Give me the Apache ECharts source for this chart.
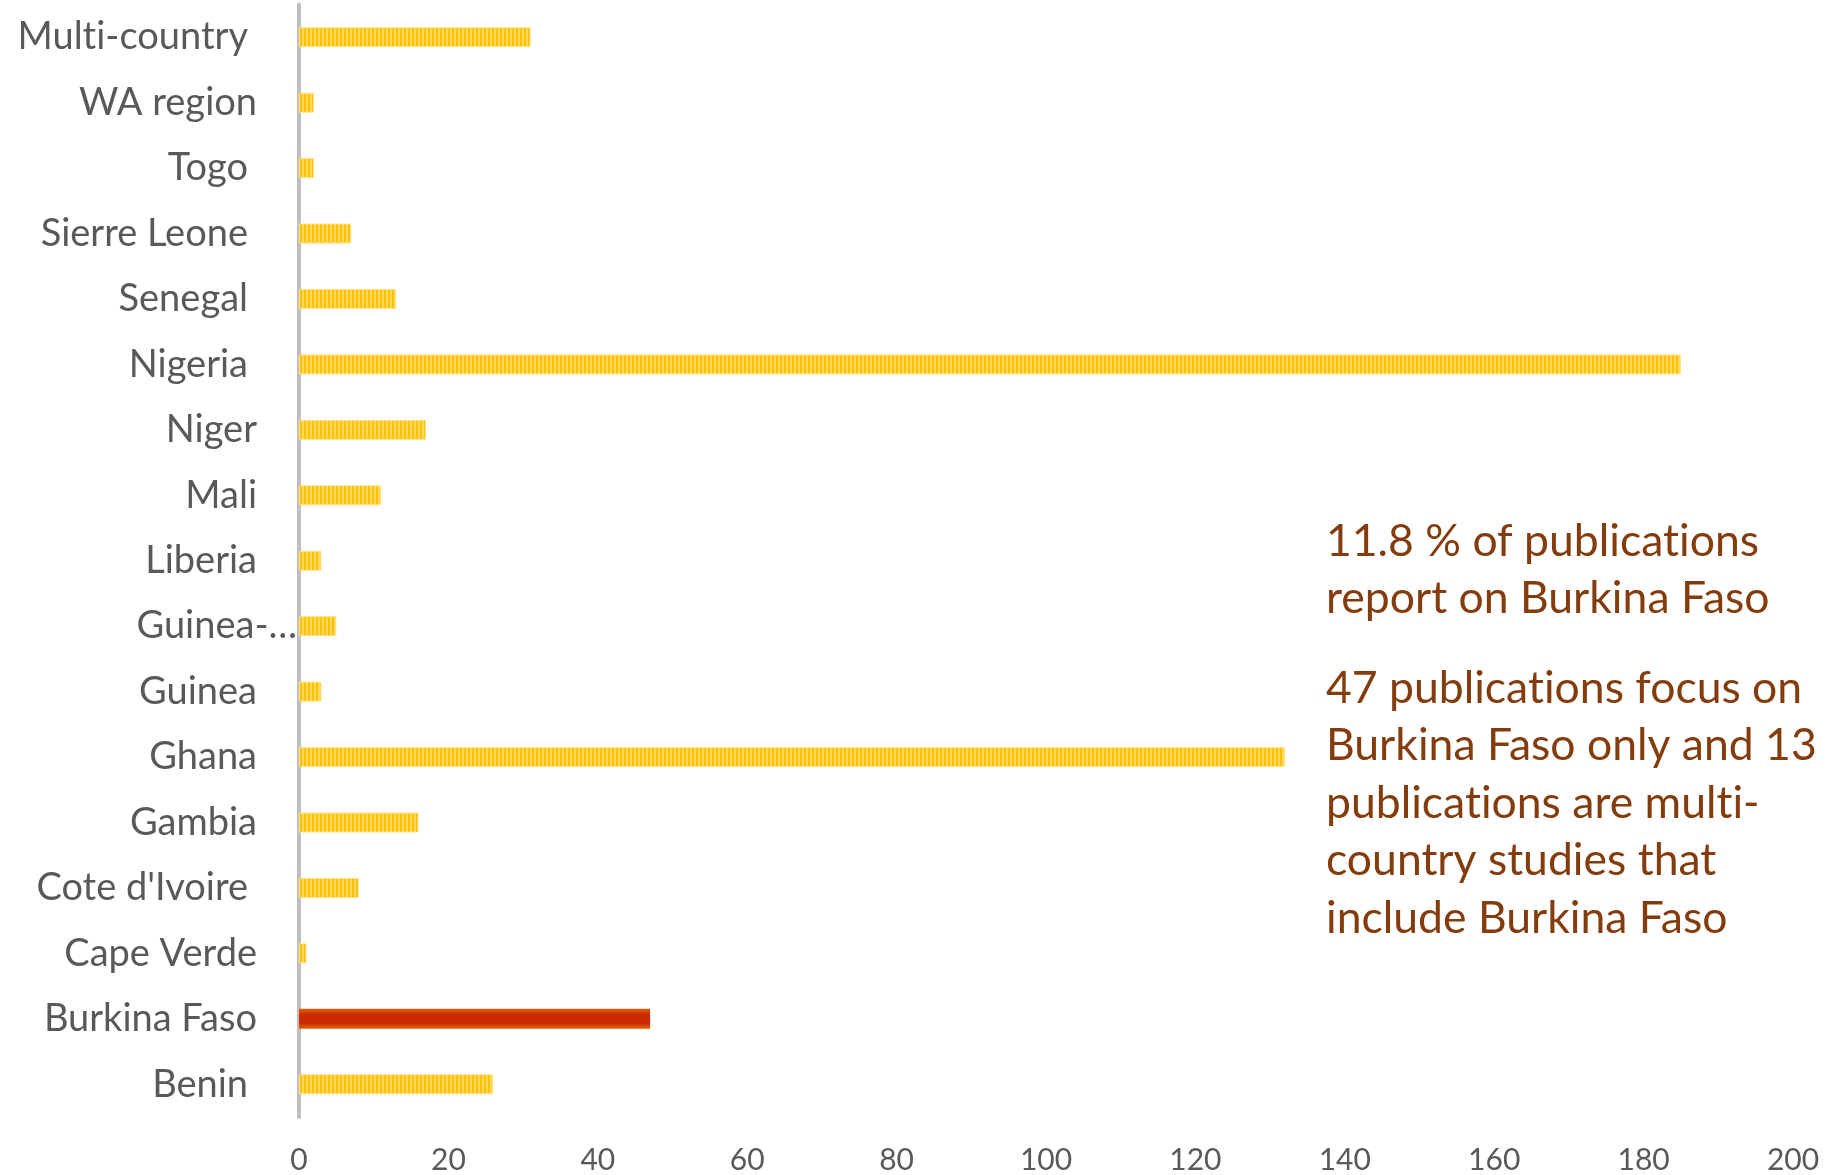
<!DOCTYPE html>
<html>
<head>
<meta charset="utf-8">
<script src="https://cdn.jsdelivr.net/npm/echarts@6/dist/echarts.min.js"></script>
<style>html,body{margin:0;padding:0;background:#fff;}#c{width:1837px;height:1175px;}</style>
</head>
<body>
<div id="c"></div>
<script>
// category names as in the source sheet (some carry a trailing space)
const categories = ['Multi-country ','WA region','Togo ','Sierre Leone ','Senegal ','Nigeria ','Niger','Mali','Liberia','Guinea-Bissau','Guinea','Ghana','Gambia',"Cote d'Ivoire ",'Cape Verde','Burkina Faso','Benin '];
const values = [31, 2, 2, 7, 13, 185, 17, 11, 3, 5, 3, 132, 16, 8, 1, 47, 26];
const highlight = 'Burkina Faso';
const xTicks = {min: 0, max: 200, interval: 20};
const note1 = '11.8 % of publications\nreport on Burkina Faso';
const note2 = '47 publications focus on\nBurkina Faso only and 13\npublications are multi-\ncountry studies that\ninclude Burkina Faso';

// avoid the "ti" ligature of Lato (reference font has none)
const noLig = s => s.replace(/ti/g, 't\u200Ci');

const pc = document.createElement('canvas');
pc.width = 4; pc.height = 4;
const pctx = pc.getContext('2d');
pctx.fillStyle = '#FFC000'; pctx.fillRect(0,0,4,4);
pctx.fillStyle = '#FFD95C'; pctx.fillRect(2,0,2,4);

const chart = echarts.init(document.getElementById('c'));
const FONT = 'Lato';
chart.setOption({
  animation: false,
  grid: {left: 299, right: 44, top: 4.5, height: 1115, containLabel: false},
  xAxis: {
    type: 'value', min: xTicks.min, max: xTicks.max, interval: xTicks.interval,
    axisLine: {show: false}, axisTick: {show: false}, splitLine: {show: false},
    axisLabel: {color: '#595959', fontSize: 30, fontFamily: FONT, margin: 28}
  },
  yAxis: {
    type: 'category', data: categories, inverse: true,
    axisLine: {show: true, lineStyle: {color: '#BFBFBF', width: 4}},
    axisTick: {show: false},
    axisLabel: {
      color: '#595959', fontSize: 38, fontFamily: FONT, margin: 2,
      formatter: v => v === 'Guinea-Bissau' ? 'Guinea-…'
        : noLig(v.trim()) + (v.endsWith(' ') ? '{sa| }' : '{sb| }'),
      rich: {sa: {width: 49, fontSize: 38}, sb: {width: 40, fontSize: 38}}
    }
  },
  series: [{
    type: 'bar', barWidth: 20,
    data: values.map((v, i) => categories[i].trim() === highlight ? {
      value: v,
      itemStyle: {color: {type: 'linear', x: 0, y: 0, x2: 0, y2: 1, colorStops: [
        {offset: 0, color: '#E0620A'}, {offset: 0.3, color: '#CC2A00'},
        {offset: 0.7, color: '#CC2A00'}, {offset: 1, color: '#E0620A'}]},
        borderColor: '#FFB000', borderWidth: 0}
    } : {value: v, itemStyle: {color: {image: pc, repeat: 'repeat'}, borderColor: '#FFE28F', borderWidth: 1}})
  }],
  graphic: [
    {type: 'text', left: 1326, top: 513, style: {text: noLig(note1), font: '44.5px Lato', fill: '#843C0C', lineHeight: 57.4}},
    {type: 'text', left: 1326, top: 660, style: {text: noLig(note2), font: '44.5px Lato', fill: '#843C0C', lineHeight: 57.4}}
  ]
});
</script>
</body>
</html>
